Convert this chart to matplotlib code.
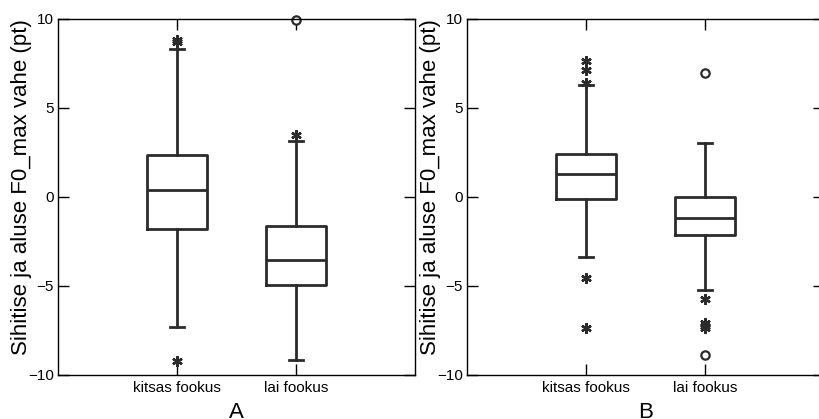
import matplotlib.pyplot as plt
import numpy as np

plt.rcParams.update({'font.family': 'Liberation Sans', 'font.size': 10})

categories = ["kitsas fookus", "lai fookus"]
panel_labels = ["A", "B"]
y_label = "Sihitise ja aluse F0_max vahe (pt)"

# per panel, per category: (lower whisker, q1, median, q3, upper whisker)
box_stats = {
    "A": [(-7.35, -1.84, 0.38, 2.36, 8.32),
          (-9.2, -4.94, -3.56, -1.67, 3.11)],
    "B": [(-3.41, -0.12, 1.26, 2.42, 6.26),
          (-5.22, -2.16, -1.2, 0.0, 3.05)],
}
# mild outliers (asterisks) and extreme outliers (circles)
stars = {
    "A": [[8.82, 8.7, -9.24], [3.46]],
    "B": [[7.61, 7.12, 6.39, -4.57, -7.37], [-5.78, -7.09, -7.25, -7.4]],
}
circles = {
    "A": [[], [9.95]],
    "B": [[], [6.99, -8.92]],
}

line_color = '#2b2b2b'
fig = plt.figure(figsize=(8.19, 4.19), dpi=100)
W, H = 819, 419
ax_left = [58, 467]
ax_w = 357
ax_top, ax_bot = 19, 374.5

for i, tag in enumerate(panel_labels):
    ax = fig.add_axes([ax_left[i] / W, 1 - ax_bot / H, ax_w / W, (ax_bot - ax_top) / H])
    bxp = []
    for j, s in enumerate(box_stats[tag]):
        bxp.append(dict(whislo=s[0], q1=s[1], med=s[2], q3=s[3], whishi=s[4],
                        fliers=[], label=categories[j]))
    ax.bxp(bxp, positions=[1, 2], widths=0.5, showfliers=False,
           boxprops=dict(color=line_color, linewidth=2),
           medianprops=dict(color=line_color, linewidth=2),
           whiskerprops=dict(color=line_color, linewidth=2, linestyle='-'),
           capprops=dict(color=line_color, linewidth=2), capwidths=0.11)
    for j in range(2):
        ys = stars[tag][j]
        ax.plot([j + 1] * len(ys), ys, linestyle='none', marker=(6, 2, 0),
                markersize=7.5, markeredgewidth=1.7, color=line_color, clip_on=False)
        yc = circles[tag][j]
        ax.plot([j + 1] * len(yc), yc, linestyle='none', marker='o',
                markersize=6, markeredgewidth=1.6, markerfacecolor='white',
                markeredgecolor=line_color, clip_on=False)
    ax.set_xlim(0, 3)
    ax.set_ylim(-10, 10)
    ax.set_yticks([-10, -5, 0, 5, 10])
    ax.set_xticks([1, 2])
    ax.set_xticklabels(categories)
    ax.tick_params(direction='in', length=8, width=1, top=True, right=True,
                   labelsize=11)
    ax.tick_params(axis='y', pad=3)
    ax.tick_params(axis='x', pad=5)
    for sp in ax.spines.values():
        sp.set_linewidth(1)
    ax.set_ylabel(y_label, fontsize=16)
    ax.yaxis.set_label_coords(-0.072, 0.526)
    ax.set_xlabel(tag, fontsize=16, labelpad=5)

plt.savefig("out.png", dpi=100)
